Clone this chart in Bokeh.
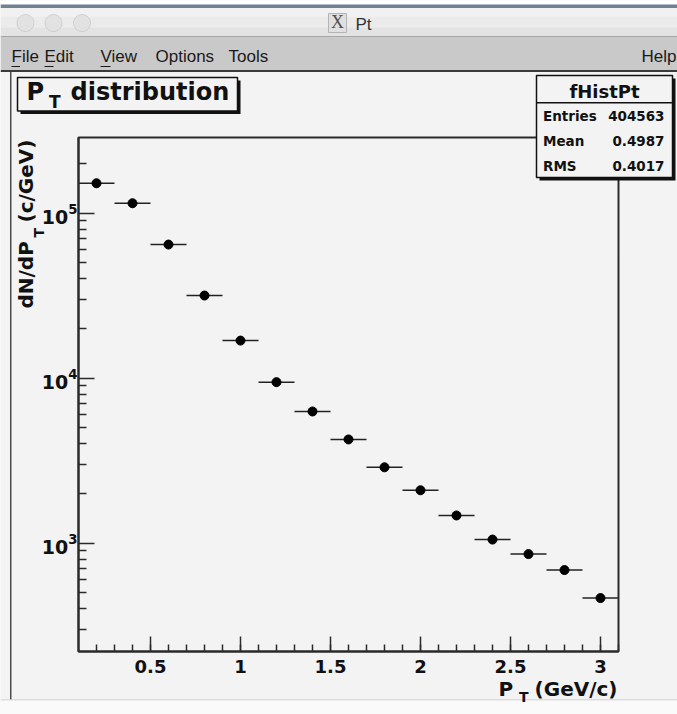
import math
from bokeh.plotting import figure
from bokeh.models import (Range1d, FixedTicker, SingleIntervalTicker, CustomJSTickFormatter,
                          BoxAnnotation, PolyAnnotation, Label, LinearAxis, LogAxis)
from bokeh.embed import file_html
from bokeh.resources import INLINE

# ---------------- data ----------------
pt_centers = [0.2, 0.4, 0.6, 0.8, 1.0, 1.2, 1.4, 1.6, 1.8, 2.0, 2.2, 2.4, 2.6, 2.8, 3.0]
dn_dpt = [152000, 115000, 64600, 31700, 16900, 9460, 6280, 4250, 2880, 2090,
          1470, 1050, 857, 686, 464]
bin_width = 0.2

y_major_ticks = [1e3, 1e4, 1e5]
y_minor_ticks = [300, 400, 500, 600, 700, 800, 900,
                 2000, 3000, 4000, 5000, 6000, 7000, 8000, 9000,
                 20000, 30000, 40000, 50000, 60000, 70000, 80000, 90000, 200000]

hist_name = "fHistPt"
stats_names = ["Entries", "Mean", "RMS"]
stats_values = ["404563", "0.4987", "0.4017"]
menu_items = ["File", "Edit", "View", "Options", "Tools", "Help"]
window_title = "Pt"
plot_title = ["P", "T", "distribution"]
x_title = ["P", "T", "(GeV/c)"]
y_title = ["dN/dP", "T", "(c/GeV)"]

# ---------------- geometry ----------------
W, H = 677, 714
HX0, HX1 = 0.1, 3.1            # histogram axis range
HY0, HY1 = 220.0, 2.88e5
PL, PT, PR, PB = 78, 137, 618, 651   # histogram frame in window pixels
SX = (HX1 - HX0) / (PR - PL)
KY = (math.log10(HY1) - math.log10(HY0)) / (PB - PT)
X_START = HX0 - PL * SX
X_END = HX1 + (W - PR) * SX
LY_TOP = math.log10(HY1) + PT * KY
LY_BOT = math.log10(HY0) - (H - PB) * KY


def ux(rx):
    return X_START + rx * SX


def uy(ry):
    return 10 ** (LY_TOP - ry * KY)


p = figure(width=W, height=H, x_range=Range1d(X_START, X_END),
           y_range=Range1d(10 ** LY_BOT, 10 ** LY_TOP),
           y_axis_type="log", x_axis_location=None, y_axis_location=None,
           output_backend="svg", toolbar_location=None,
           min_border=0, min_border_left=0, min_border_right=0,
           min_border_top=0, min_border_bottom=0,
           background_fill_color="#f3f3f3", border_fill_color="#f3f3f3",
           outline_line_color=None)
p.grid.visible = False

AX = "#2a2a2a"
xaxis = LinearAxis(fixed_location=HY0, bounds=(HX0, HX1),
                   ticker=SingleIntervalTicker(interval=0.5, num_minor_ticks=5),
                   formatter=CustomJSTickFormatter(code="return String(Math.round(tick*10)/10);"))
yaxis = LogAxis(fixed_location=HX0, bounds=(HY0, HY1),
                ticker=FixedTicker(ticks=y_major_ticks, minor_ticks=y_minor_ticks))
for ax in (xaxis, yaxis):
    ax.axis_line_color = AX
    ax.axis_line_width = 2
    ax.major_tick_line_color = AX
    ax.major_tick_line_width = 1.5
    ax.minor_tick_line_color = AX
    ax.minor_tick_line_width = 1.5
    ax.major_tick_out = 0
    ax.minor_tick_out = 0
    ax.major_label_text_font = "DejaVu Sans"
    ax.major_label_text_font_style = "bold"
    ax.major_label_text_font_size = "18px"
    ax.major_label_text_color = "#111111"
xaxis.major_tick_in = 15
xaxis.minor_tick_in = 7
xaxis.major_label_standoff = 8
yaxis.major_tick_in = 16
yaxis.minor_tick_in = 8
yaxis.major_label_standoff = 1
yaxis.major_label_text_font_size = "19px"
p.add_layout(xaxis, "below")
p.add_layout(yaxis, "left")


# ---------------- decorations helpers ----------------
def box(l, t, r, b, fill, line=None, lw=1.0):
    p.add_layout(BoxAnnotation(left=ux(l), right=ux(r), top=uy(t), bottom=uy(b),
                               fill_color=fill, fill_alpha=1.0 if fill else 0.0,
                               line_color=line, line_alpha=1.0, line_width=lw))


def text(rx, ry, s, size, font="DejaVu Sans", style="bold", color="#111111",
         align="left", angle=0.0):
    # (rx, ry): baseline anchor in window pixels; small shift compensates the
    # renderer's baseline placement
    if angle == 0.0:
        ry = ry - 0.39 * size
    else:
        rx = rx - 0.5 * size
    p.add_layout(Label(x=ux(rx), y=uy(ry), text=s, text_font=font,
                       text_font_size=f"{size}px", text_font_style=style,
                       text_color=color, text_align=align, text_baseline="alphabetic",
                       angle=angle))


def disc(cx, cy, r, fill, line):
    n = 48
    xs = [ux(cx + r * math.cos(2 * math.pi * k / n)) for k in range(n)]
    ys = [uy(cy + r * math.sin(2 * math.pi * k / n)) for k in range(n)]
    p.add_layout(PolyAnnotation(xs=xs, ys=ys, fill_color=fill, fill_alpha=1.0,
                                line_color=line, line_width=1))


# window title bar
box(0, 0, W, 4, "#ffffff")
box(0, 4, W, 7.5, "#6f8192")
box(0, 7.5, W, 16, "#f1f1f1")
box(0, 16, W, 27, "#ebebeb")
box(0, 27, W, 35.5, "#e3e3e3")
box(0, 35.5, W, 37, "#a6a6a6")
for cx in (25, 53, 81.5):
    disc(cx, 22.5, 8.5, "#e2e2e2", "#9c9c9c")
box(328, 13, 346, 32, "#e0e0e0", "#b4b4b4")
text(337, 29, "X", 18, font="Liberation Serif", style="normal", color="#505050", align="center")
text(355, 30.5, window_title, 17, font="Liberation Sans", style="normal", color="#333333")

# menu bar
box(0, 37, W, 69.5, "#c9c9c9")
box(0, 69.5, W, 71.5, "#3a3a3a")
menu_x = [11, 44, 100, 155, 228, 641]
for name, mx in zip(menu_items, menu_x):
    text(mx, 63, name, 17, font="Liberation Sans", style="normal", color="#1a1a1a")
for l, r in ((11, 19.5), (44, 53), (100, 110)):
    box(l, 65.5, r, 66.5, "#1a1a1a")

# canvas edges
box(9.5, 71.5, 11, 699, "#4a4a4a")
box(0, 699, W, 700, "#c8c8c8")
box(0, 700, W, H, "#fafafa")

# ---------------- histogram ----------------
p.segment(x0=[c - bin_width / 2 for c in pt_centers], x1=[c + bin_width / 2 for c in pt_centers],
          y0=dn_dpt, y1=dn_dpt, line_color="#222222", line_width=1.5)
p.scatter(pt_centers, dn_dpt, size=9, marker="circle", color="black")

# frame outline (top / right sides)
p.add_layout(BoxAnnotation(left=HX0, right=HX1, bottom=HY0, top=HY1, fill_alpha=0.0,
                           line_color=AX, line_alpha=1.0, line_width=2))

# title pave
box(20, 80, 240, 113.5, "#111111")
box(17, 77, 237, 110.5, "#f3f3f3", "#111111", 1.5)
text(26, 101, plot_title[0], 24)
text(48.5, 108, plot_title[1], 17)
text(70, 101, plot_title[2], 24)

# stats pave
box(539, 78, 675, 180, "#111111")
box(536, 75, 672, 177, "#f3f3f3", "#111111", 1.5)
box(536, 101.5, 672, 103, "#111111")
text(604, 98.5, hist_name, 18, align="center")
for i, (nm, vv) in enumerate(zip(stats_names, stats_values)):
    yb = 121 + i * 24.75
    text(542.5, yb, nm, 13.5)
    text(664, yb, vv, 13.5, align="right")

# axis titles
text(498, 696, x_title[0], 20)
text(518.5, 702, x_title[1], 14)
text(617, 696, x_title[2], 20, align="right")

text(35.5, 308, y_title[0], 20, angle=math.pi / 2)
text(45, 237, y_title[1], 14, angle=math.pi / 2)
text(35.5, 222, y_title[2], 20, angle=math.pi / 2)

open("out.html", "w").write(file_html(p, INLINE))
